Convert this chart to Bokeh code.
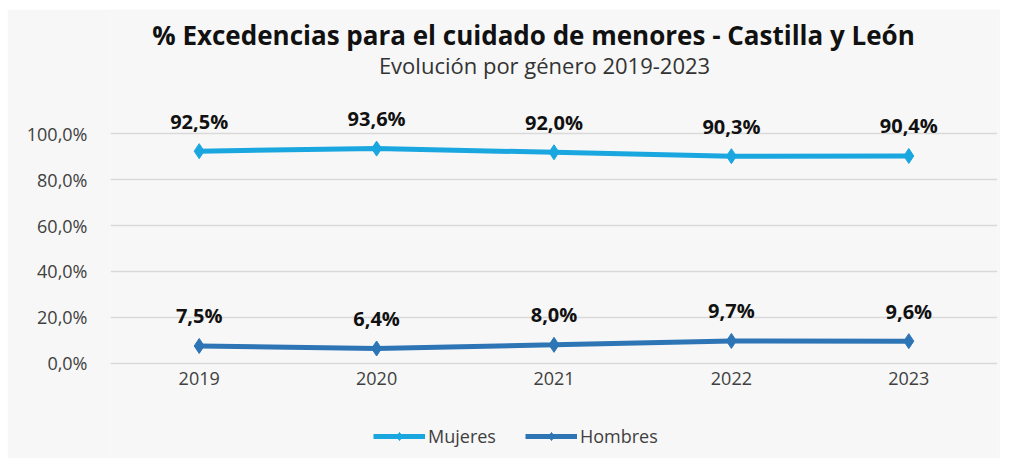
from bokeh.plotting import figure
from bokeh.models import (ColumnDataSource, LabelSet, Label, Legend, LegendItem,
                          FixedTicker, FactorRange, Range1d)
from bokeh.core.properties import value
from bokeh.embed import file_html
from bokeh.resources import INLINE

years = ["2019", "2020", "2021", "2022", "2023"]
mujeres = [92.5, 93.6, 92.0, 90.3, 90.4]
hombres = [7.5, 6.4, 8.0, 9.7, 9.6]
y_ticks = [0, 20, 40, 60, 80, 100]
title_text = "% Excedencias para el cuidado de menores - Castilla y León"
subtitle_text = "Evolución por género 2019-2023"

C_M = "#1aa7e0"
C_H = "#2e75b6"
BG = "#f7f7f7"
FONT = "Open Sans"

def fmt(v):
    return ("%.1f%%" % v).replace(".", ",")

src = ColumnDataSource(dict(
    x=years, m=mujeres, h=hombres,
    ml=[fmt(v) for v in mujeres], hl=[fmt(v) for v in hombres]))

p = figure(frame_width=887, frame_height=449, x_range=FactorRange(*years),
           y_range=Range1d(-41.6, 154.3), output_backend="svg",
           toolbar_location=None, background_fill_color=BG,
           border_fill_color=BG, outline_line_color=None,
           min_border_left=103, min_border_right=3,
           min_border_top=0, min_border_bottom=0)
p.margin = (9, 0, 0, 7)

rm_l = p.line("x", "m", source=src, line_color=C_M, line_width=5)
rm_s = p.scatter("x", "m", source=src, marker="diamond", size=15,
                 fill_color=C_M, line_color=C_M)
rh_l = p.line("x", "h", source=src, line_color=C_H, line_width=5)
rh_s = p.scatter("x", "h", source=src, marker="diamond", size=15,
                 fill_color=C_H, line_color=C_H)

for col, lab in (("m", "ml"), ("h", "hl")):
    p.add_layout(LabelSet(x="x", y=col, text=lab, source=src, y_offset=30,
                          text_align="center", text_baseline="middle",
                          text_font=value(FONT), text_font_style="bold",
                          text_font_size="20px", text_color="#111111"))

p.yaxis.ticker = FixedTicker(ticks=y_ticks)
p.yaxis.major_label_overrides = {t: fmt(t) for t in y_ticks}
p.yaxis.major_label_standoff = 23
for ax in (p.xaxis, p.yaxis):
    ax.axis_line_color = None
    ax.major_tick_line_color = None
    ax.minor_tick_line_color = None
    ax.major_tick_out = 0
    ax.major_tick_in = 0
    ax.major_label_text_font = FONT
    ax.major_label_text_font_size = "18px"
    ax.major_label_text_color = "#404040"
p.xaxis.major_label_standoff = 9
p.xaxis.fixed_location = 0

p.xgrid.grid_line_color = None
p.ygrid.ticker = FixedTicker(ticks=y_ticks)
p.ygrid.grid_line_color = "#d9d9d9"
p.ygrid.grid_line_width = 1.5

p.add_layout(Label(x=423, y=424, x_units="screen", y_units="screen",
                   text=title_text, text_align="center", text_baseline="middle",
                   text_font=FONT, text_font_style="bold", text_font_size="26px",
                   text_color="#111111"))
p.add_layout(Label(x=434, y=394, x_units="screen", y_units="screen",
                   text=subtitle_text, text_align="center", text_baseline="middle",
                   text_font=FONT, text_font_size="22px", text_color="#333333"))

legend = Legend(items=[LegendItem(label="Mujeres", renderers=[rm_l, rm_s]),
                       LegendItem(label="Hombres", renderers=[rh_l, rh_s])],
                orientation="horizontal", location=(263, 10),
                background_fill_alpha=0, border_line_color=None,
                glyph_width=52, glyph_height=20, label_standoff=3, spacing=29,
                label_text_font=FONT, label_text_font_size="18px",
                label_text_color="#404040", margin=0, padding=0)
p.add_layout(legend, "center")

open("out.html", "w").write(file_html(p, INLINE))
